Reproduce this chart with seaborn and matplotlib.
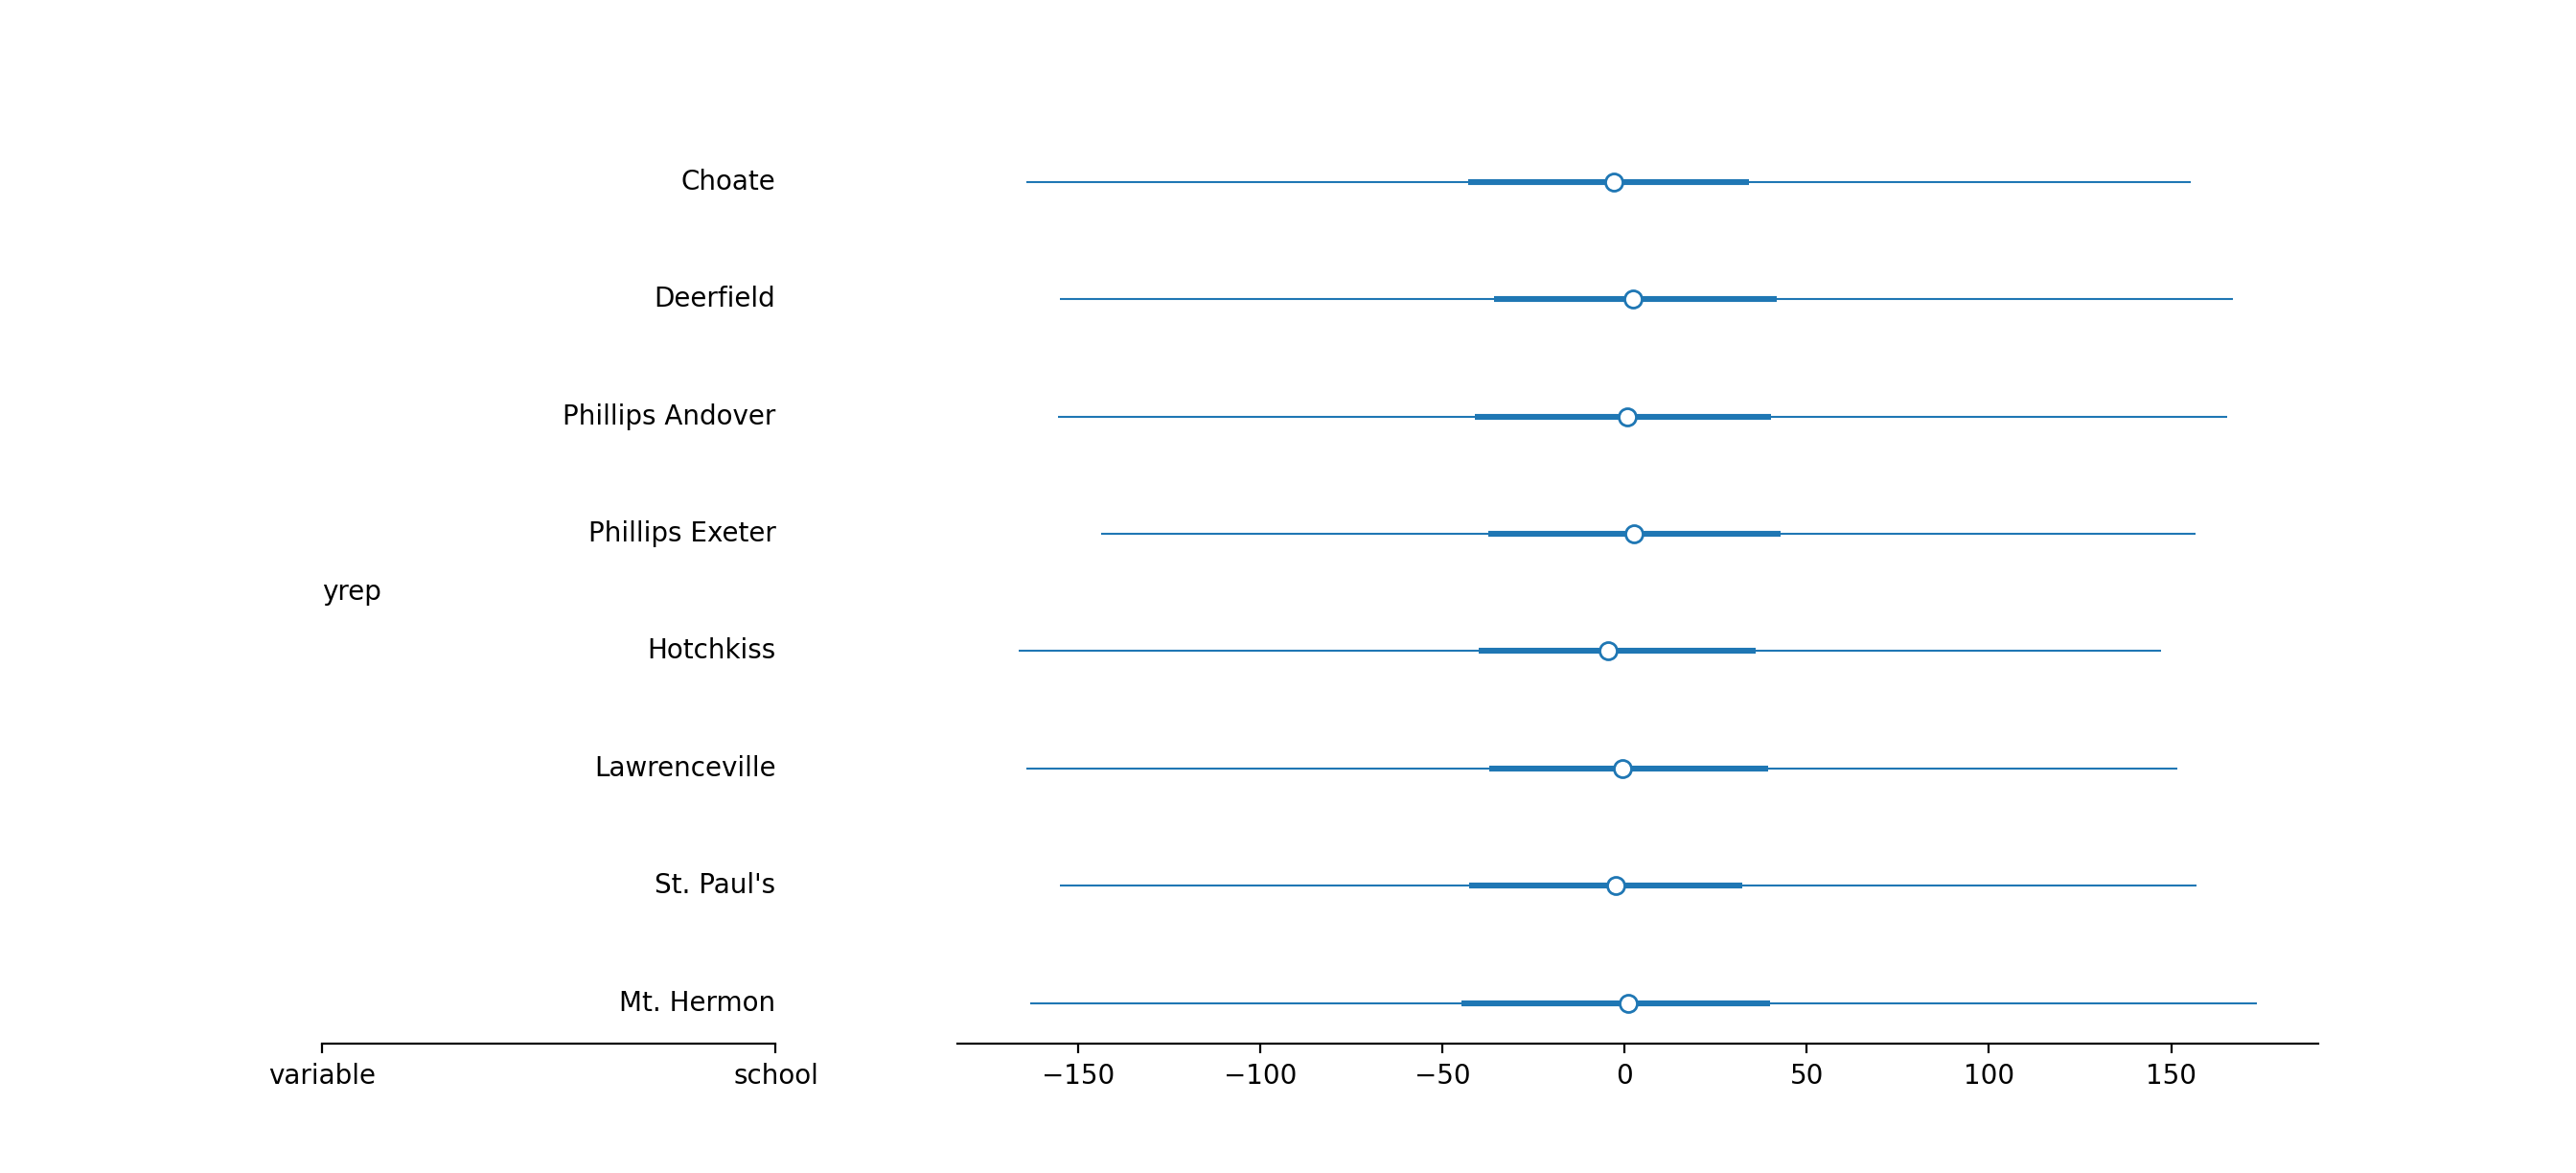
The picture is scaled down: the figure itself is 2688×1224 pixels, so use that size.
import numpy as np
import pandas as pd
import matplotlib
matplotlib.use("Agg")
import matplotlib.pyplot as plt
import seaborn as sns

# ---- data ----
variable_name = "yrep"
schools = ["Choate", "Deerfield", "Phillips Andover", "Phillips Exeter",
           "Hotchkiss", "Lawrenceville", "St. Paul's", "Mt. Hermon"]
median = [-3.0, 2.3, 0.8, 2.5, -4.5, -0.5, -2.3, 1.0]
hdi_low = [-164.1, -154.8, -155.3, -143.5, -166.1, -164.1, -154.8, -163.1]
hdi_high = [155.3, 166.9, 165.4, 156.6, 147.3, 151.8, 156.8, 173.4]
iqr_low = [-43.0, -35.9, -41.0, -37.4, -40.0, -37.2, -42.7, -44.7]
iqr_high = [34.2, 41.7, 40.2, 42.7, 35.9, 39.5, 32.4, 40.0]
column_labels = ["variable", "school"]

sns.set_style("ticks", rc={
    "axes.edgecolor": "black",
    "xtick.color": "black",
    "ytick.color": "black",
    "text.color": "black",
    "axes.labelcolor": "black",
})
plt.rcParams["font.family"] = ["DejaVu Sans"]
plt.rcParams["font.size"] = 10

df = pd.DataFrame({
    "school": schools,
    "median": median,
    "hdi_low": hdi_low,
    "hdi_high": hdi_high,
    "iqr_low": iqr_low,
    "iqr_high": iqr_high,
})
n = len(df)
df["y"] = np.arange(n)[::-1].astype(float)

fig, (ax_lab, ax) = plt.subplots(
    1, 2, figsize=(13.44, 6.12), dpi=200, sharey=True,
    gridspec_kw={"width_ratios": [1, 3], "wspace": 0.2},
)

color = sns.color_palette("tab10")[0]

# forest plot
ax.hlines(df["y"], df["hdi_low"], df["hdi_high"], color=color, linewidth=0.75, zorder=1)
ax.hlines(df["y"], df["iqr_low"], df["iqr_high"], color=color, linewidth=2.2, zorder=2)
sns.scatterplot(data=df, x="median", y="y", ax=ax, s=42, facecolor="white",
                edgecolor=color, linewidth=1.0, zorder=3, legend=False)
ax.set_xlabel("")
ax.set_ylabel("")
ax.set_xticks([-150, -100, -50, 0, 50, 100, 150])
ax.tick_params(axis="y", left=False, labelleft=False)
sns.despine(ax=ax, left=True)

# label column axes
ax_lab.set_xlim(0, 1)
ax_lab.set_xticks([0, 1])
ax_lab.set_xticklabels(column_labels)
ax_lab.tick_params(axis="y", left=False, labelleft=False)
for yv, name in zip(df["y"], df["school"]):
    ax_lab.text(1, yv, name, ha="right", va="center", fontsize=10)
ax_lab.text(0, df["y"].mean(), variable_name, ha="left", va="center", fontsize=10)
sns.despine(ax=ax_lab, left=True)

fig.savefig("out.png", dpi=200)
